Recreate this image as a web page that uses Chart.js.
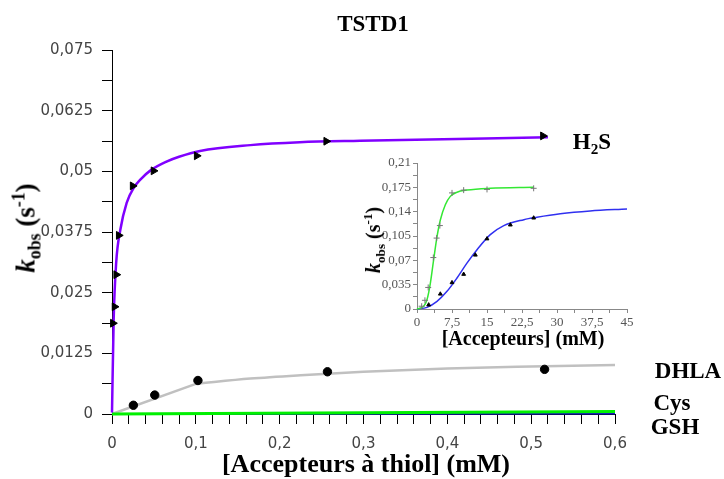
<!DOCTYPE html>
<html>
<head>
<meta charset="utf-8">
<script src="https://cdn.jsdelivr.net/npm/chart.js@4/dist/chart.umd.min.js"></script>
<style>
  body { margin: 0; background: #fff; }
  #wrap { position: relative; width: 724px; height: 479px; overflow: hidden; }
  canvas { position: absolute; }
  .lbl { position: absolute; font-family: "Liberation Serif", serif; font-weight: bold; color: #000;
         line-height: 1; white-space: nowrap; transform: translate(-50%, -50%); }
  .lbl sub, .lbl sup { font-size: 66%; line-height: 0; }
  .rot { transform: translate(-50%, -50%) rotate(-90deg); }
</style>
</head>
<body>
<div id="wrap">
  <canvas id="main" width="724" height="479" style="left:0;top:0"></canvas>
  <canvas id="inset" width="300" height="210" style="left:340px;top:150px"></canvas>

  <div class="lbl" style="left:373px;top:23px;font-size:23px">TSTD1</div>
  <div class="lbl" style="left:592px;top:141px;font-size:23px">H<sub>2</sub>S</div>
  <div class="lbl" style="left:688px;top:370px;font-size:23px">DHLA</div>
  <div class="lbl" style="left:672px;top:402px;font-size:23px">Cys</div>
  <div class="lbl" style="left:675px;top:426px;font-size:23px">GSH</div>
  <div class="lbl" style="left:366px;top:464px;font-size:26px">[Accepteurs à thiol] (mM)</div>
  <div class="lbl rot" style="left:26px;top:228px;font-size:27px"><i>k</i><sub>obs</sub> (s<sup>-1</sup>)</div>
  <div class="lbl" style="left:523px;top:338px;font-size:20px">[Accepteurs] (mM)</div>
  <div class="lbl rot" style="left:373px;top:240px;font-size:20px"><i>k</i><sub>obs</sub> (s<sup>-1</sup>)</div>
</div>

<script>
// main plot: k_obs vs [thiol acceptor]
const h2sX = [0.001, 0.003, 0.005, 0.008, 0.0246, 0.0495, 0.101, 0.2555, 0.514];
const h2sY = [0.0187, 0.0221, 0.0287, 0.0368, 0.047, 0.0501, 0.0532, 0.0562, 0.0573];
const h2sFitX = [0, 0.002, 0.005, 0.01, 0.0175, 0.026, 0.035, 0.046, 0.065, 0.08, 0.105, 0.165, 0.224, 0.296, 0.52];
const h2sFitY = [0.0003, 0.0195, 0.0312, 0.038, 0.0435, 0.0466, 0.0485, 0.0502, 0.052, 0.053, 0.0542, 0.0554, 0.056, 0.0563, 0.057];

const dhlaX = [0.0255, 0.051, 0.1025, 0.257, 0.516];
const dhlaY = [0.0018, 0.0039, 0.0069, 0.0087, 0.0092];
const dhlaRiseX = [0, 0.1];
const dhlaRiseY = [0, 0.0062];
const dhlaFitX = [0.1, 0.165, 0.225, 0.3, 0.4, 0.5, 0.6];
const dhlaFitY = [0.0062, 0.0073, 0.008, 0.0087, 0.0094, 0.0098, 0.0101];

const lineX = [0, 0.6];
const cysY = [0, 0.0005];
const gshY = [0, 0.0001];

// inset: k_obs vs [acceptor] in mM
const greenX = [1, 1.7, 2.4, 3.5, 4.2, 4.9, 7.5, 10, 15, 25];
const greenY = [0.004, 0.0125, 0.031, 0.074, 0.102, 0.12, 0.167, 0.171, 0.172, 0.1736];
const greenFitX = [0, 1.43, 2.14, 2.86, 3.57, 4.29, 5.0, 6.07, 7.14, 8.57, 10.7, 15.7, 25];
const greenFitY = [0, 0.004, 0.0134, 0.037, 0.071, 0.104, 0.128, 0.15, 0.162, 0.168, 0.171, 0.1736, 0.175];
const blueX = [2.5, 5, 7.5, 10, 12.5, 15, 20, 25];
const blueY = [0.006, 0.0216, 0.038, 0.05, 0.0777, 0.101, 0.121, 0.131];
const blueFitX = [0, 2.14, 4.29, 6.43, 8.57, 10.7, 12.86, 15.7, 18.6, 22.9, 25.7, 30.7, 37.1, 45];
const blueFitY = [0, 0.0024, 0.011, 0.0254, 0.0446, 0.066, 0.0853, 0.107, 0.12, 0.1285, 0.132, 0.137, 0.141, 0.1438];

const pts = (xs, ys) => xs.map((x, i) => ({ x: x, y: ys[i] }));
const fmt = v => String(parseFloat(v.toFixed(5))).replace('.', ',');
const major = (v, step) => Math.abs(v / step - Math.round(v / step)) < 1e-6;

new Chart(document.getElementById("main"), {
    type: "scatter",
    data: {
        datasets: [
            { data: pts(h2sX, h2sY), pointStyle: "triangle", rotation: 90, pointRadius: 4.5,
              backgroundColor: "#000", borderColor: "#000", clip: false },
            { data: pts(dhlaX, dhlaY), pointStyle: "circle", pointRadius: 4.2,
              backgroundColor: "#000", borderColor: "#000", clip: false },
            { data: pts(h2sFitX, h2sFitY), showLine: true, pointRadius: 0, borderColor: "#8000ff",
              borderWidth: 2.5, cubicInterpolationMode: "monotone", clip: false },
            { data: pts(lineX, cysY), showLine: true, pointRadius: 0, borderColor: "#00f000",
              borderWidth: 3, clip: false },
            { data: pts(lineX, gshY), showLine: true, pointRadius: 0, borderColor: "#1818c0",
              borderWidth: 2, clip: false },
            { data: pts(dhlaRiseX, dhlaRiseY), showLine: true, pointRadius: 0, borderColor: "#c0c0c0",
              borderWidth: 2.5, clip: false },
            { data: pts(dhlaFitX, dhlaFitY), showLine: true, pointRadius: 0, borderColor: "#c0c0c0",
              borderWidth: 2.5, cubicInterpolationMode: "monotone", clip: false },
        ],
    },
    options: {
        responsive: false,
        animation: false,
        layout: { padding: { left: 0, top: 50, right: 109, bottom: 0 } },
        plugins: { legend: { display: false }, tooltip: { enabled: false } },
        scales: {
            x: {
                type: "linear", min: 0, max: 0.6,
                afterFit: s => { s.height = 65; },
                border: { color: "#000", width: 1 },
                grid: { drawOnChartArea: false, color: "#000", tickLength: 10 },
                ticks: { stepSize: 0.02, maxTicksLimit: 40, autoSkip: false, maxRotation: 0, padding: 11,
                         color: "#444", font: { family: "DejaVu Sans", size: 15 },
                         callback: v => major(v, 0.1) ? fmt(v) : "" },
            },
            y: {
                type: "linear", min: 0, max: 0.075,
                afterFit: s => { s.width = 112; },
                border: { color: "#000", width: 1 },
                grid: { drawOnChartArea: false, color: "#000", tickLength: 10 },
                ticks: { stepSize: 0.00625, maxTicksLimit: 20, autoSkip: false, padding: 9,
                         color: "#444", font: { family: "DejaVu Sans", size: 15 },
                         callback: v => major(v, 0.0125) ? fmt(v) : "" },
            },
        },
    },
});

new Chart(document.getElementById("inset"), {
    type: "scatter",
    data: {
        datasets: [
            { data: pts(greenX, greenY), pointStyle: "cross", pointRadius: 3, borderWidth: 1,
              borderColor: "#777", clip: false },
            { data: pts(blueX, blueY), pointStyle: "triangle", pointRadius: 2.2,
              backgroundColor: "#000", borderColor: "#000", clip: false },
            { data: pts(greenFitX, greenFitY), showLine: true, pointRadius: 0, borderColor: "#33e833",
              borderWidth: 1.5, cubicInterpolationMode: "monotone", clip: false },
            { data: pts(blueFitX, blueFitY), showLine: true, pointRadius: 0, borderColor: "#3030f0",
              borderWidth: 1.5, cubicInterpolationMode: "monotone", clip: false },
        ],
    },
    options: {
        responsive: false,
        animation: false,
        layout: { padding: { left: 0, top: 13, right: 13, bottom: 0 } },
        plugins: { legend: { display: false }, tooltip: { enabled: false } },
        scales: {
            x: {
                type: "linear", min: 0, max: 45,
                afterFit: s => { s.height = 51; },
                border: { color: "#888", width: 1 },
                grid: { drawOnChartArea: false, color: "#888", tickLength: 4 },
                ticks: { stepSize: 3.75, maxTicksLimit: 20, autoSkip: false, maxRotation: 0, padding: 2,
                         color: "#555", font: { family: "Liberation Serif", size: 13 },
                         callback: v => major(v, 7.5) ? fmt(v) : "" },
            },
            y: {
                type: "linear", min: 0, max: 0.21,
                afterFit: s => { s.width = 77; },
                border: { color: "#888", width: 1 },
                grid: { drawOnChartArea: false, color: "#888", tickLength: 4 },
                ticks: { stepSize: 0.0175, maxTicksLimit: 20, autoSkip: false, padding: 2,
                         color: "#555", font: { family: "Liberation Serif", size: 13 },
                         callback: v => major(v, 0.035) ? fmt(v) : "" },
            },
        },
    },
});
</script>
</body>
</html>
